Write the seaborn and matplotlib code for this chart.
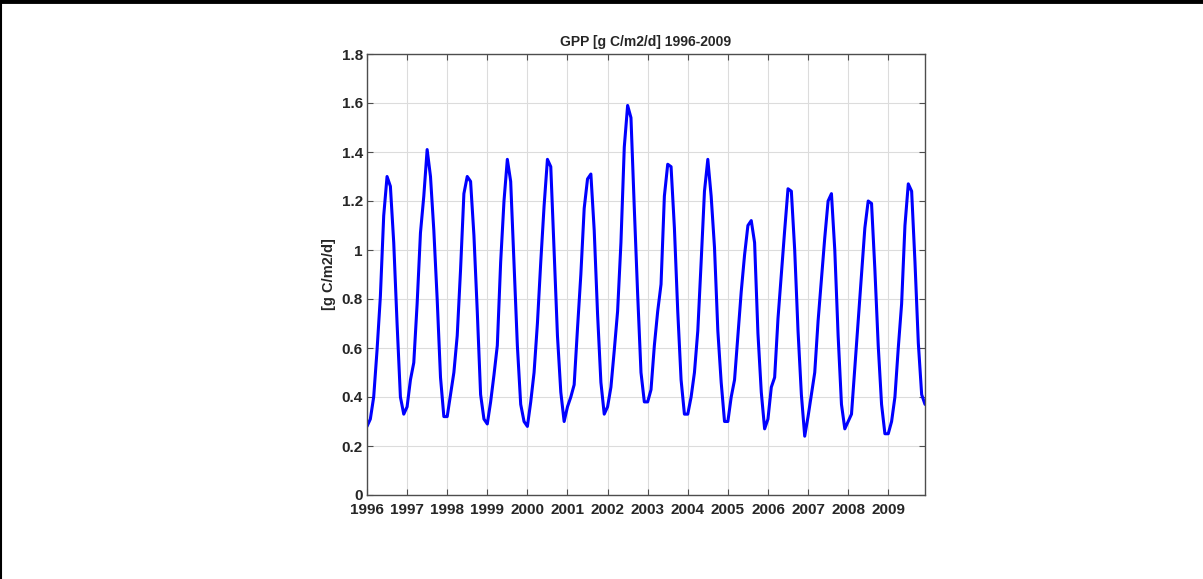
import matplotlib
import matplotlib.pyplot as plt
import numpy as np
import pandas as pd
import seaborn as sns
from matplotlib.lines import Line2D
from matplotlib.ticker import FormatStrFormatter

matplotlib.use("Agg")

# monthly GPP, Jan 1996 .. Dec 2009
YEARS = list(range(1996, 2010))
GPP_BY_YEAR = {
    1996: [0.28, 0.31, 0.40, 0.59, 0.81, 1.14, 1.30, 1.26, 1.03, 0.70, 0.40, 0.33],
    1997: [0.36, 0.47, 0.54, 0.78, 1.07, 1.22, 1.41, 1.30, 1.08, 0.80, 0.48, 0.32],
    1998: [0.32, 0.41, 0.50, 0.65, 0.92, 1.23, 1.30, 1.28, 1.06, 0.75, 0.41, 0.31],
    1999: [0.29, 0.38, 0.49, 0.61, 0.95, 1.20, 1.37, 1.28, 0.95, 0.61, 0.37, 0.30],
    2000: [0.28, 0.38, 0.50, 0.70, 0.95, 1.18, 1.37, 1.34, 1.00, 0.65, 0.42, 0.30],
    2001: [0.36, 0.40, 0.45, 0.68, 0.90, 1.17, 1.29, 1.31, 1.08, 0.74, 0.46, 0.33],
    2002: [0.36, 0.44, 0.59, 0.75, 1.03, 1.42, 1.59, 1.54, 1.17, 0.82, 0.50, 0.38],
    2003: [0.38, 0.43, 0.61, 0.75, 0.86, 1.22, 1.35, 1.34, 1.09, 0.75, 0.47, 0.33],
    2004: [0.33, 0.40, 0.50, 0.67, 0.95, 1.24, 1.37, 1.22, 1.01, 0.67, 0.46, 0.30],
    2005: [0.30, 0.40, 0.47, 0.65, 0.83, 0.98, 1.10, 1.12, 1.03, 0.66, 0.42, 0.27],
    2006: [0.31, 0.44, 0.48, 0.72, 0.90, 1.08, 1.25, 1.24, 1.00, 0.67, 0.41, 0.24],
    2007: [0.32, 0.41, 0.50, 0.71, 0.88, 1.05, 1.20, 1.23, 1.00, 0.65, 0.37, 0.27],
    2008: [0.30, 0.33, 0.52, 0.71, 0.90, 1.09, 1.20, 1.19, 0.92, 0.61, 0.37, 0.25],
    2009: [0.25, 0.30, 0.40, 0.60, 0.78, 1.10, 1.27, 1.24, 0.95, 0.62, 0.41, 0.37],
}
Y_TICKS = [0, 0.2, 0.4, 0.6, 0.8, 1.0, 1.2, 1.4, 1.6, 1.8]

TITLE  = "GPP [g C/m2/d] 1996-2009"
YLABEL = "[g C/m2/d]"

gpp = [v for y in YEARS for v in GPP_BY_YEAR[y]]
df = pd.DataFrame({
    "time": [y + m / 12 for y in YEARS for m in range(12)],
    "gpp": gpp,
})

sns.set_style("ticks")
plt.rcParams["font.family"] = ["Liberation Sans", "DejaVu Sans"]

fig = plt.figure(figsize=(12.03, 5.79), dpi=100)
ax = fig.add_axes([367 / 1203, 84 / 579, 558 / 1203, 441 / 579])

sns.lineplot(data=df, x="time", y="gpp", ax=ax, color="#0000ff", linewidth=2.2)

ax.set_xlim(df["time"].min(), df["time"].max())
ax.set_ylim(0, 1.8)
ax.set_xticks(YEARS)
ax.set_xticklabels([str(y) for y in YEARS])
ax.set_yticks(Y_TICKS)
ax.yaxis.set_major_formatter(FormatStrFormatter("%g"))

ax.grid(True, color="#dcdcdc", linewidth=0.8)
ax.set_axisbelow(True)
for side in ax.spines.values():
    side.set_color("#4d4d4d")
    side.set_linewidth(1.0)
ax.tick_params(direction="in", length=4, width=0.8, color="#4d4d4d",
               top=True, right=True, labelsize=11)
ax.tick_params(axis="x", pad=5.5)
ax.tick_params(axis="y", pad=3)
for lbl in ax.get_xticklabels() + ax.get_yticklabels():
    lbl.set_fontweight("bold")
    lbl.set_color("#262626")

ax.set_title(TITLE, fontsize=10, fontweight="bold", pad=6, color="#262626")
ax.set_xlabel("")
ax.set_ylabel(YLABEL, fontsize=10.5, fontweight="bold", color="#262626", labelpad=4)

# screenshot frame: top and left edges
fig.add_artist(Line2D([0, 1], [0.9975, 0.9975], transform=fig.transFigure,
                      color="black", linewidth=3.5))
fig.add_artist(Line2D([0.0008, 0.0008], [0, 1], transform=fig.transFigure,
                      color="black", linewidth=1.5))

fig.savefig("out.png", dpi=100)
plt.close(fig)
